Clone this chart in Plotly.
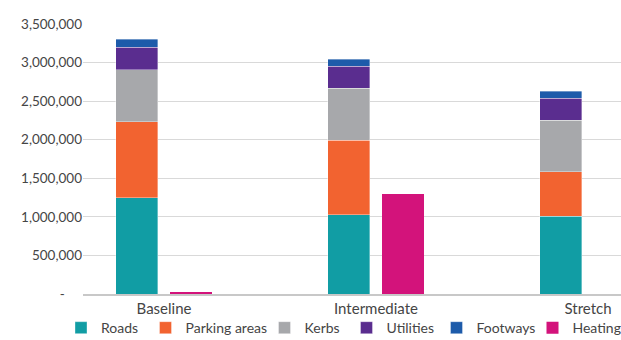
import plotly.graph_objects as go

categories = ["Baseline", "Intermediate", "Stretch"]
roads = [1250000, 1030000, 1010000]
parking = [980000, 965000, 575000]
kerbs = [680000, 670000, 665000]
utilities = [290000, 290000, 285000]
footways = [100000, 87000, 95000]
heating = [15000, 1290000, 0]

y_ticks = [0, 500000, 1000000, 1500000, 2000000, 2500000, 3000000, 3500000]
y_ticktext = ["-\u00a0\u00a0\u00a0\u00a0\u00a0"] + [f"{v:,}" for v in y_ticks[1:]]

colors = {
    "Roads": "#119DA4",
    "Parking areas": "#F26330",
    "Kerbs": "#A7A8AB",
    "Utilities": "#5A2D8F",
    "Footways": "#1D5BAA",
    "Heating": "#D3137B",
}

idx = list(range(len(categories)))
shift = 0.128
bw = 0.198
stack_x = [i - shift for i in idx]
heat_x = [i + shift for i in idx]

# layout geometry (pixels)
W, H = 720, 340
ML, MR, MT, MB = 83, 26, 24, 46
PW = W - ML - MR
# left edges (px) of each single-entry legend box
legend_left_px = [61, 145.5, 264.5, 346.5, 436.5, 532.5]

series = [("Roads", roads), ("Parking areas", parking), ("Kerbs", kerbs),
          ("Utilities", utilities), ("Footways", footways), ("Heating", heating)]

fig = go.Figure()
legend_layout = {}
for k, (name, vals) in enumerate(series):
    lg = "legend" if k == 0 else f"legend{k + 1}"
    is_heat = name == "Heating"
    fig.add_trace(go.Bar(
        x=heat_x if is_heat else stack_x, y=vals, name=name, width=bw,
        legend=lg,
        marker=dict(color=colors[name],
                    line=dict(color="rgba(255,255,255,0.45)", width=0 if is_heat else 0.8))))
    legend_layout[lg] = dict(
        orientation="h", x=(legend_left_px[k] - ML) / PW, xanchor="left",
        y=-0.067, yanchor="top", font=dict(size=14, color="#454545"),
        itemwidth=30, bgcolor="rgba(0,0,0,0)")

font_family = "Lato, 'Open Sans', sans-serif"
fig.update_layout(
    width=W, height=H,
    margin=dict(l=ML, r=MR, t=MT, b=MB, autoexpand=False),
    barmode="stack",
    plot_bgcolor="white", paper_bgcolor="white",
    font=dict(family=font_family, size=13, color="#454545"),
    showlegend=True,
    xaxis=dict(range=[-0.382, 2.5], tickvals=idx, ticktext=categories,
               showgrid=False, zeroline=False, showline=True,
               linecolor="#C8C8C8", linewidth=1.5, ticks="",
               tickfont=dict(size=15, color="#454545")),
    yaxis=dict(range=[0, 3500000], tickvals=y_ticks, ticktext=y_ticktext,
               showgrid=True, gridcolor="#D9D9D9", gridwidth=1,
               zeroline=False, showline=False, ticks="",
               tickfont=dict(size=13.5, color="#454545")),
    **legend_layout,
)

fig.write_html("out.html",
               post_script="document.documentElement.style.overflow='hidden';document.body.style.overflow='hidden';")
